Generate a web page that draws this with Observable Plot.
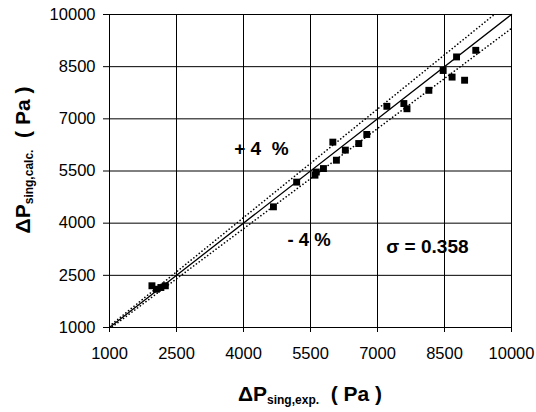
<!DOCTYPE html>
<html><head><meta charset="utf-8">
<script src="https://cdn.jsdelivr.net/npm/d3@7"></script>
<script src="https://cdn.jsdelivr.net/npm/@observablehq/plot@0.6"></script>
<style>
body{margin:0;background:#fff;font-family:"Liberation Sans",Arial,sans-serif}
#chart{width:536px;height:412px;position:relative}
</style>
</head><body><div id="chart"></div>
<script>
// Data
const expP  = [1950, 2050, 2150, 2250, 4670, 5190, 5600, 5630, 5790, 6000, 6080, 6280, 6580, 6760, 7210, 7590, 7660, 8150, 8470, 8670, 8770, 8950, 9200];
const calcP = [2200, 2100, 2150, 2200, 4470, 5180, 5380, 5470, 5570, 6330, 5810, 6100, 6290, 6550, 7360, 7440, 7290, 7820, 8390, 8200, 8780, 8110, 8970];
const ticks = [1000, 2500, 4000, 5500, 7000, 8500, 10000];
const refLine = [1000, 10000];
const bandFactors = [1.04, 0.96];

const points = expP.map((x, i) => ({x, y: calcP[i]}));
const diag = refLine.map(v => ({x: v, y: v}));
const bands = bandFactors.flatMap(f => refLine.map(v => ({x: v, y: v * f, f})));

const chart = Plot.plot({
  width: 536, height: 412,
  marginLeft: 109, marginRight: 25, marginTop: 14, marginBottom: 85,
  style: {fontFamily: "'Liberation Sans', Arial, sans-serif", color: "#000", background: "#fff"},
  x: {domain: [1000, 10000], ticks},
  y: {domain: [1000, 10000], ticks},
  marks: [
    Plot.gridX(ticks, {stroke: "#000", strokeOpacity: 1, strokeWidth: 1}),
    Plot.gridY(ticks, {stroke: "#000", strokeOpacity: 1, strokeWidth: 1}),
    Plot.axisX({ticks, tickSize: 5, tickPadding: 15, fontSize: 16.5, tickFormat: d => String(d), label: null}),
    Plot.axisY({ticks, tickSize: 6, tickPadding: 8, fontSize: 16.5, tickFormat: d => String(d), label: null}),
    Plot.line(bands, {x: "x", y: "y", z: "f", clip: true, stroke: "#000", strokeWidth: 1.6, strokeDasharray: "0.1,3.4", strokeLinecap: "round"}),
    Plot.line(diag, {x: "x", y: "y", stroke: "#000", strokeWidth: 1.3}),
    Plot.dot(points, {x: "x", y: "y", symbol: "square", r: 3.9, fill: "#000", stroke: "none"}),
    Plot.text(["+ 4  %"], {x: 4400, y: 6140, fontSize: 19, fontWeight: "bold", fill: "#000"}),
    Plot.text(["- 4 %"], {x: 5470, y: 3509, fontSize: 18.5, fontWeight: "bold", fill: "#000"}),
    Plot.text(["σ = 0.358"], {x: 8118, y: 3330, fontSize: 19, fontWeight: "bold", fill: "#000"})
  ]
});
document.getElementById("chart").appendChild(chart);

// Axis titles with subscripts
const svg = d3.select(chart);
const xt = svg.append("text").attr("x", 310).attr("y", 401).attr("text-anchor", "middle")
  .attr("font-weight", "bold").attr("font-size", 21).attr("fill", "#000");
xt.append("tspan").text("ΔP");
xt.append("tspan").attr("font-size", 12).attr("dy", 3).text("sing,exp.");
xt.append("tspan").attr("dy", -3).text("\u00a0\u00a0( Pa )");

const yt = svg.append("text").attr("transform", "translate(30,160) rotate(-90)").attr("text-anchor", "middle")
  .attr("font-weight", "bold").attr("font-size", 21).attr("fill", "#000");
yt.append("tspan").text("ΔP");
yt.append("tspan").attr("font-size", 12).attr("dy", 3).text("sing,calc.");
yt.append("tspan").attr("dy", -3).text("\u00a0\u00a0( Pa )");
</script>
</body></html>
